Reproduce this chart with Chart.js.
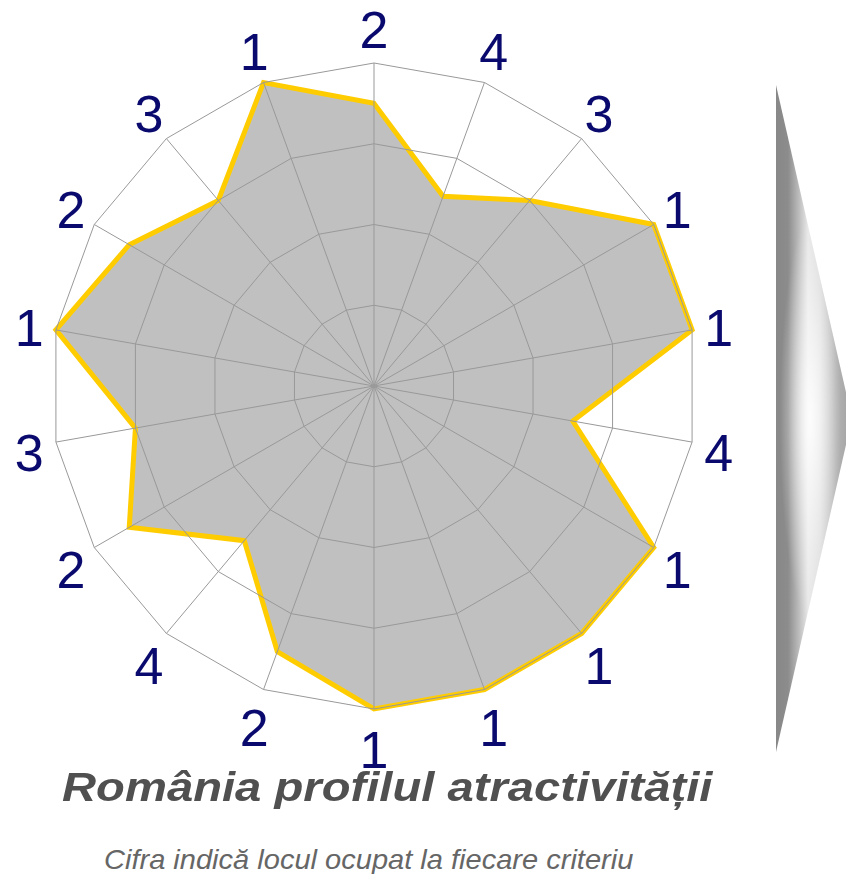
<!DOCTYPE html>
<html>
<head>
<meta charset="utf-8">
<script src="https://cdn.jsdelivr.net/npm/chart.js@4/dist/chart.umd.min.js"></script>
<style>
  body { margin: 0; background: #fff; width: 846px; height: 874px; overflow: hidden; position: relative; }
  #wrap { position: absolute; left: 0; top: 0; width: 748px; height: 772px; }
  #arrow {
    position: absolute; left: 776px; top: 85px; width: 76px; height: 667px;
    clip-path: polygon(0 0, 100% 50%, 0 100%);
    background:
      radial-gradient(ellipse 40% 30% at 45% 50%, rgba(255,255,255,0.9) 0%, rgba(255,255,255,0) 100%),
      linear-gradient(to right, #888 0px, #8c8c8c 12px, #b8b8b8 22px, #e8e8e8 32px, #dcdcdc 44px, #b4b4b4 60px, #a0a0a0 76px);
  }
  .title { position: absolute; font-family: "Liberation Sans", Arial, sans-serif; font-style: italic; white-space: nowrap; line-height: 1; transform-origin: 0 0; }
  #t1 { left: 62px; top: 767px; font-size: 40px; font-weight: bold; color: #505050; transform: scaleX(1.18); }
  #t2 { left: 104px; top: 846px; font-size: 28px; color: #666666; transform: scaleX(1.037); }
</style>
</head>
<body>
<div id="wrap"><canvas id="radar"></canvas></div>
<div id="arrow"></div>
<div class="title" id="t1">România profilul atractivității</div>
<div class="title" id="t2">Cifra indică locul ocupat la fiecare criteriu</div>
<script>
// rank shown at each spoke, clockwise from the top
const ranks = ['2', '4', '3', '1', '1', '4', '1', '1', '1', '1', '2', '4', '2', '3', '1', '2', '3', '1']
// plotted value of each spoke (rank 1 = outer ring)
const scores = [3.5, 2.5, 3, 4, 4, 2.5, 4, 4, 4, 4, 3.5, 2.5, 3.5, 3, 4, 3.5, 3, 4]

// rank numbers centred around the outside of the web
const rankLabels = {
    id: 'rankLabels',
    afterDraw(chart) {
        const scale = chart.scales.r
        const c = chart.ctx
        c.save()
        c.fillStyle = '#0a0a6e'
        c.font = '52px "Liberation Sans", Arial, sans-serif'
        c.textAlign = 'center'
        c.textBaseline = 'alphabetic'
        chart.data.labels.forEach((lab, i) => {
            const px = scale.getPointPosition(i, scale.drawingArea + 27)
            const py = scale.getPointPosition(i, scale.drawingArea + 37)
            c.fillText(lab, px.x, py.y + 3.5 + 52 * 0.358)
        })
        c.restore()
    }
}

const ctx = document.getElementById('radar')
const radar = new Chart(ctx, {
    type: 'radar',
    data: {
        labels: ranks,
        datasets: [{
            label: 'România',
            data: scores,
            backgroundColor: 'rgb(192, 192, 192)',
            borderColor: '#ffcc00',
            borderWidth: 5,
            pointRadius: 0,
            fill: true,
            tension: 0
        }]
    },
    options: {
        responsive: true,
        maintainAspectRatio: false,
        animation: false,
        layout: { padding: { top: 63, bottom: 63, left: 51, right: 51 } },
        plugins: {
            legend: { display: false },
            tooltip: { enabled: false }
        },
        scales: {
            r: {
                min: 0,
                max: 4,
                ticks: { stepSize: 1, display: false },
                grid: { color: '#999999', lineWidth: 1, z: 1 },
                angleLines: { color: '#999999', lineWidth: 1 },
                pointLabels: { display: false }
            }
        }
    },
    plugins: [rankLabels]
})
</script>
</body>
</html>
